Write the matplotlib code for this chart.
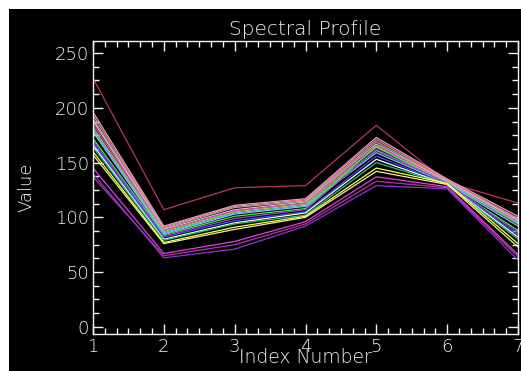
import matplotlib
matplotlib.use("Agg")
import matplotlib.pyplot as plt
from matplotlib.patches import Rectangle
from matplotlib.ticker import MultipleLocator

x_index = [1, 2, 3, 4, 5, 6, 7]

series_values = [
    [227, 107, 127, 129, 184, 132, 113],
    [196, 92, 111, 117, 173, 135, 101],
    [193, 91, 110, 116, 171, 134, 99],
    [190, 90, 109, 115, 169, 133, 98],
    [188, 89, 107, 114, 167, 133, 97],
    [185, 88, 106, 113, 166, 132, 96],
    [182, 87, 105, 112, 164, 132, 95],
    [180, 86, 104, 111, 161, 132, 94],
    [178, 85, 103, 110, 159, 131, 92],
    [172, 84, 101, 108, 165, 130, 88],
    [170, 83, 99, 107, 162, 131, 86],
    [168, 82, 97, 105, 156, 130, 84],
    [166, 80, 95, 104, 153, 130, 82],
    [164, 79, 94, 102, 150, 130, 80],
    [160, 77, 91, 101, 145, 131, 76],
    [157, 76, 89, 100, 142, 130, 73],
    [145, 67, 78, 96, 137, 128, 66],
    [137, 65, 75, 94, 133, 127, 64],
    [140, 63, 71, 92, 129, 126, 61],
]

series_colors = [
    "#b83468", "#e6a0c8", "#f08888", "#a8a8a8", "#ffb0c0", "#d050c8",
    "#c8b850", "#50c8c8", "#88c0ff", "#40f040", "#9848c8", "#4848ff",
    "#ffffff", "#20c080", "#ffff40", "#f0f090", "#e040e0", "#c030a8",
    "#8838d0",
]

W, H = 521, 371
fig = plt.figure(figsize=(W / 100, H / 100), dpi=100, facecolor="black")
# thin white margin on the left and top edges
fig.patches.append(Rectangle((0, 0), 9 / W, 1, transform=fig.transFigure,
                             facecolor="white", edgecolor="none", zorder=-10))
fig.patches.append(Rectangle((0, 1 - 9 / H), 1, 9 / H, transform=fig.transFigure,
                             facecolor="white", edgecolor="none", zorder=-10))

ax = fig.add_axes([93 / W, 1 - 334 / H, (518 - 93) / W, (334 - 41) / H])
ax.set_facecolor("black")
fg = "#f4f4f4"

for vals, col in zip(series_values, series_colors):
    ax.plot(x_index, vals, color=col, lw=0.9)

ax.set_xlim(1, 7)
ax.set_ylim(-6.5, 261)
ax.xaxis.set_major_locator(MultipleLocator(1))
ax.xaxis.set_minor_locator(MultipleLocator(1 / 6))
ax.yaxis.set_major_locator(MultipleLocator(50))
ax.yaxis.set_minor_locator(MultipleLocator(12.5))

for s in ax.spines.values():
    s.set_color(fg)
    s.set_linewidth(1.0)

ax.tick_params(which="both", direction="in", colors=fg, top=True, right=True,
               labelsize=13, width=1.0)
ax.tick_params(which="major", length=7, pad=3)
ax.tick_params(which="minor", length=4)
for lbl in ax.get_xticklabels() + ax.get_yticklabels():
    lbl.set_color(fg)
    lbl.set_fontweight("light")

ax.set_title("Spectral Profile", color=fg, fontsize=14.5, fontweight="light", pad=4)
ax.set_xlabel("Index Number", color=fg, fontsize=13.5, fontweight="light", labelpad=-6)
ax.set_ylabel("Value", color=fg, fontsize=13, fontweight="light", labelpad=14)

fig.savefig("out.png", dpi=100, facecolor=fig.get_facecolor())
